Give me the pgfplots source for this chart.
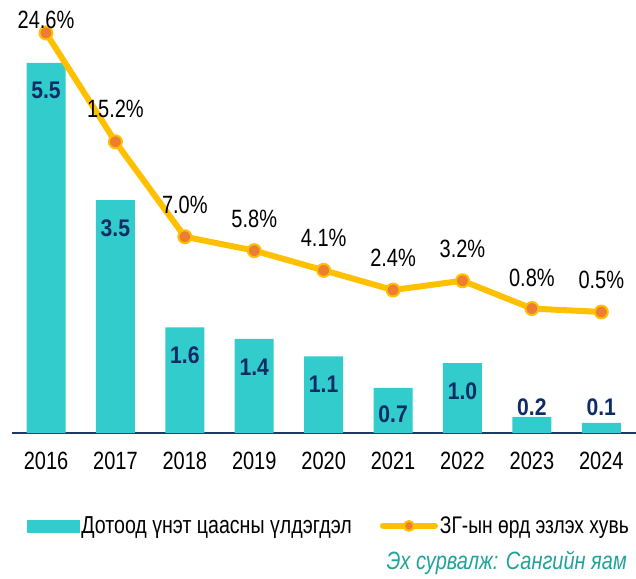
\documentclass[border=0pt]{standalone}
\usepackage{fontspec}
\setmainfont{Liberation Sans}[FakeStretch=0.8]
\newfontfamily\labfont{Liberation Sans}[FakeStretch=0.88]
\usepackage{pgfplots}
\pgfplotsset{compat=1.18}
\usepackage{pgfplotstable}
\definecolor{barc}{HTML}{33CCCC}
\definecolor{linec}{HTML}{FFC000}
\definecolor{dotc}{HTML}{ED7D31}
\definecolor{axc}{HTML}{1F3864}
\definecolor{labc}{HTML}{0E2C64}
\definecolor{srcc}{HTML}{1FA39A}

\pgfplotstableread{
x y lab off
0 5.5 5.5 -28
1 3.46 3.5 -28
2 1.57 1.6 -28
3 1.40 1.4 -28
4 1.14 1.1 -28
5 0.67 0.7 -26
6 1.04 1.0 -28
7 0.24 0.2 10
8 0.15 0.1 16
}\bardata

\pgfplotstableread{
x y lab off
0 24.6 24.6 13
1 15.2 15.2 33
2 7.0 7.0 32
3 5.8 5.8 32
4 4.1 4.1 32
5 2.4 2.4 32
6 3.2 3.2 32
7 0.8 0.8 31
8 0.5 0.5 32
}\linedata

\begin{document}
\begin{tikzpicture}
\path[use as bounding box] (0,0) rectangle (636pt,578pt);
\begin{axis}[
  at={(12pt,145pt)}, anchor=south west,
  width=624pt, height=413pt, scale only axis,
  xmin=-0.49, xmax=8.5, ymin=0, ymax=6.137,
  axis y line=none, axis x line*=bottom,
  x axis line style={axc, line width=1.5pt, -},
  xtick={0,...,8},
  xticklabels={2016,2017,2018,2019,2020,2021,2022,2023,2024},
  xtick style={draw=none},
  ytick=\empty,
  xticklabel style={font=\fontsize{25}{30}\selectfont, text=black, yshift=-16pt},
  clip=false,
]
\addplot[ybar, bar width=39pt, bar shift=0pt, fill=barc, draw=none,
  point meta=explicit symbolic,
  visualization depends on={\thisrow{off}\as\off},
  nodes near coords={\pgfplotspointmeta},
  nodes near coords style={font=\labfont\bfseries\fontsize{24}{28}\selectfont, text=labc, anchor=center, yshift=\off},
] table[x=x, y=y, meta=lab]{\bardata};
\end{axis}
\begin{axis}[
  at={(12pt,145pt)}, anchor=south west,
  width=624pt, height=413pt, scale only axis,
  xmin=-0.49, xmax=8.5, ymin=-9.95, ymax=25.72,
  hide axis, clip=false,
  legend style={at={(0.024,-0.225)}, anchor=west, draw=none, fill=none,
    inner sep=0pt, outer sep=0pt, legend columns=2,
    font=\fontsize{24.5}{29}\selectfont,
    /tikz/every even column/.append style={column sep=26pt},
    nodes={inner sep=2pt}},
  legend cell align=left,
]
\addlegendimage{legend image code/.code={\fill[barc] (0pt,-6pt) rectangle (52pt,6pt);}}
\addlegendentry{Дотоод үнэт цаасны үлдэгдэл}
\addplot[linec, line width=6pt, line join=round,
  mark=*, mark size=6.5pt, mark options={fill=dotc, draw=linec, line width=2pt},
  point meta=explicit symbolic,
  visualization depends on={\thisrow{off}\as\off},
  nodes near coords={\pgfplotspointmeta\%},
  nodes near coords style={font=\fontsize{25}{30}\selectfont, text=black, anchor=center, yshift=\off},
  legend image code/.code={\draw[linec, line width=6pt, line cap=round] (2pt,0pt) -- (54pt,0pt);
    \fill[dotc, draw=linec, line width=2pt] (28pt,0pt) circle (5pt);},
] table[x=x, y=y, meta=lab]{\linedata};
\addlegendentry{\fontsize{24}{29}\selectfont ЗГ-ын өрд эзлэх хувь}
\end{axis}
\node[anchor=base east, text=srcc, font=\itshape\fontsize{25}{30}\selectfont, inner sep=0pt] at (627pt,9pt) {Эх сурвалж: Сангийн яам};
\end{tikzpicture}
\end{document}
